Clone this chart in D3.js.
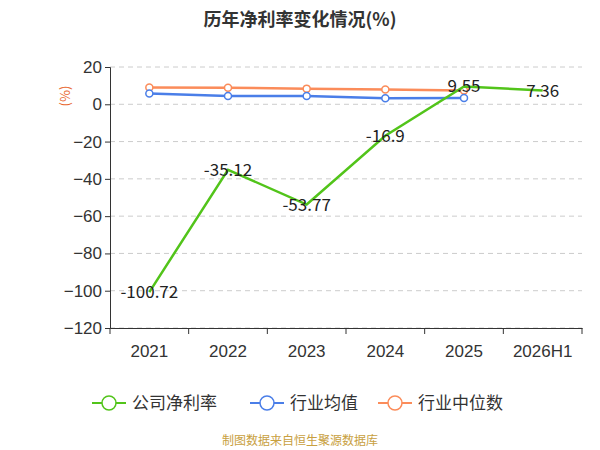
<!DOCTYPE html>
<html><head><meta charset="utf-8">
<script src="https://cdn.jsdelivr.net/npm/d3@7"></script>
<style>body{margin:0;background:#fff;font-family:"Noto Sans CJK SC","Noto Sans",sans-serif}</style>
</head><body><svg id="c" width="600" height="450"></svg>
<script>
var years = ["2021","2022","2023","2024","2025","2026H1"];
var company = [-100.72, -35.12, -53.77, -16.9, 9.55, 7.36];
var industryAvg = [5.8, 4.4, 4.4, 3.2, 3.4];
var industryMedian = [9.0, 8.9, 8.4, 7.9, 7.4];
var yTicks = [20, 0, -20, -40, -60, -80, -100, -120];

var svg = d3.select("#c");
var x = d3.scaleBand().domain(years).range([110, 582]);
var y = d3.scaleLinear().domain([-120, 20]).range([328, 67]);
var cx = d => x(d) + x.bandwidth() / 2;

svg.append("text").attr("x", 300).attr("y", 26).attr("text-anchor", "middle")
  .attr("font-size", 18).attr("font-weight", "bold").attr("fill", "#333").text("历年净利率变化情况(%)");

svg.selectAll(".grid").data(yTicks).enter().append("line")
  .attr("x1", 110).attr("x2", 582).attr("y1", d => y(d)).attr("y2", d => y(d))
  .attr("stroke", "#ccc").attr("stroke-dasharray", "5,4");

var ya = svg.append("g").attr("transform", "translate(110,0)")
  .call(d3.axisLeft(y).tickValues(yTicks).tickSize(5));
ya.selectAll("text").attr("font-size", 17).attr("fill", "#333");
ya.selectAll("line,path").attr("stroke", "#333");

var xa = svg.append("g").attr("transform", "translate(0," + y(-120) + ")")
  .call(d3.axisBottom(x).tickSize(6).tickSizeOuter(0));
xa.selectAll(".tick line").attr("transform", "translate(" + (-x.bandwidth()/2) + ",0)");
xa.append("line").attr("x1", 582).attr("x2", 582).attr("y1", 0).attr("y2", 6).attr("stroke", "#333");
xa.selectAll("text").attr("font-size", 17).attr("fill", "#333").attr("dy", "1.15em");
xa.selectAll("line,path").attr("stroke", "#333");

svg.append("text").attr("transform", "translate(70,96) rotate(-90)").attr("text-anchor", "middle")
  .attr("font-size", 13).attr("fill", "#e8652c").text("(%)");

var line = d3.line().x((d, i) => cx(years[i])).y(d => y(d));
function series(data, color, markers) {
  svg.append("path").datum(data).attr("d", line).attr("fill", "none")
    .attr("stroke", color).attr("stroke-width", 2.5);
  if (markers) svg.selectAll(null).data(data).enter().append("circle")
    .attr("cx", (d, i) => cx(years[i])).attr("cy", d => y(d)).attr("r", 3.5)
    .attr("fill", "#fff").attr("stroke", color).attr("stroke-width", 1.5);
}
series(industryMedian, "#fb8c5a", true);
series(industryAvg, "#4a7ee8", true);
series(company, "#52c41a", false);

svg.selectAll(".lbl").data(company).enter().append("text")
  .attr("x", (d, i) => cx(years[i])).attr("y", d => y(d) + 6)
  .attr("text-anchor", "middle").attr("font-size", 17).attr("fill", "#222").text(d => d);

var legend = [["公司净利率", "#52c41a"], ["行业均值", "#4a7ee8"], ["行业中位数", "#fb8c5a"]];
var lx = [92, 250, 378];
legend.forEach((l, i) => {
  var g = svg.append("g").attr("transform", "translate(" + lx[i] + ",403)");
  g.append("line").attr("x1", 0).attr("x2", 34).attr("stroke", l[1]).attr("stroke-width", 2);
  g.append("circle").attr("cx", 17).attr("r", 7).attr("fill", "#fff").attr("stroke", l[1]).attr("stroke-width", 1.5);
  g.append("text").attr("x", 40).attr("y", 6).attr("font-size", 17).attr("fill", "#333").text(l[0]);
});

svg.append("text").attr("x", 300).attr("y", 445).attr("text-anchor", "middle")
  .attr("font-size", 12).attr("fill", "#c8a040").text("制图数据来自恒生聚源数据库");
</script></body></html>
